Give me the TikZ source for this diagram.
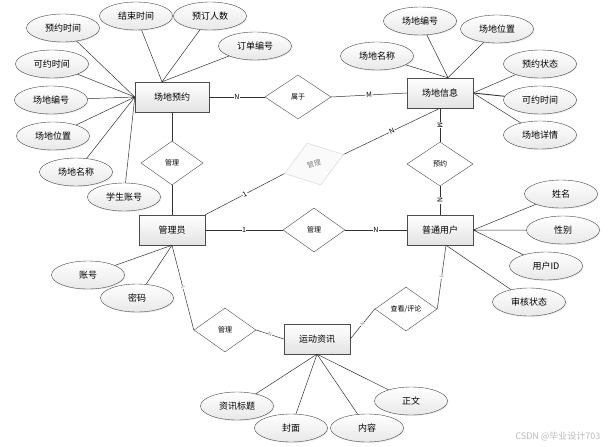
\documentclass[tikz,border=0pt]{standalone}
\usepackage{fontspec}
\setmainfont{Noto Sans CJK SC}
\usetikzlibrary{shapes.geometric}
\usetikzlibrary{shadows}
\tikzset{entity/.style={draw=gray!60!black, top color=white, bottom color=gray!22, minimum width=66pt, minimum height=30pt, inner sep=1pt, font=\fontsize{9}{10}\selectfont, drop shadow={opacity=0.2, shadow xshift=1pt, shadow yshift=-1pt}}}
\tikzset{attr/.style={ellipse, draw=gray!55!black, top color=white, bottom color=gray!18, minimum width=73pt, minimum height=28pt, inner sep=0pt, font=\fontsize{9}{10}\selectfont, drop shadow={opacity=0.15, shadow xshift=1pt, shadow yshift=-1pt}}}
\tikzset{rel/.style={diamond, draw=gray!60!black, fill=white, minimum width=62pt, minimum height=44pt, inner sep=0pt, font=\fontsize{7}{8}\selectfont}}
\tikzset{link/.style={draw=black!80, line width=0.5pt}}
\tikzset{lbl/.style={fill=white, inner sep=0.5pt, sloped, font=\fontsize{7}{8}\selectfont}}
\tikzset{lbls/.style={fill=white, inner sep=0.3pt, sloped, text=gray, font=\fontsize{5}{6}\selectfont}}

\begin{document}
\begin{tikzpicture}[x=1pt, y=-1pt]
    \useasboundingbox (0,0) rectangle (608,447);
    %Entities
    \node[entity, minimum width=74pt] (zy) at (172,97) {场地预约};
    \node[entity] (cdxx) at (440,93) {场地信息};
    \node[entity] (gly) at (172,230) {管理员};
    \node[entity] (ptyh) at (440,230) {普通用户};
    \node[entity] (ydzx) at (317,339) {运动资讯};
    %Relations
    \node[rel, minimum width=66pt] (sy) at (298,97) {属于};
    \node[rel] (gl1) at (172,163) {管理};
    \node[rel, minimum width=66pt] (yy) at (440,164) {预约};
    \node[rel] (gl2) at (314,230) {管理};
    \node[rel] (gl3) at (225,330) {管理};
    \node[rel] (ckpl) at (406,309) {查看/评论};
    \node[rel, draw=gray!35, fill=gray!4, text=gray, rotate=18] (gl4) at (314,164) {管理};
    %Links between entities and relations
    \draw[link] (zy.east) -- node[lbl] {N} (sy.west);
    \draw[link] (sy.east) -- node[lbl] {M} (cdxx.west);
    \draw[link] (zy.south) -- (gl1.north);
    \draw[link] (gl1.south) -- (gly.north);
    \draw[link] (cdxx.south) -- node[lbl] {M} (yy.north);
    \draw[link] (yy.south) -- node[lbl] {N} (ptyh.north);
    \draw[link] (gly.east) -- node[lbl] {1} (gl2.west);
    \draw[link] (gl2.east) -- node[lbl] {N} (ptyh.west);
    \draw[link] (gly.north east) -- node[lbl] {1} (gl4.west);
    \draw[link] (gl4.east) -- node[lbl] {N} (cdxx.south);
    \draw[link] (gly.south) -- node[lbls] {1} (gl3.west);
    \draw[link] (gl3.east) -- node[lbls] {N} (ydzx.west);
    \coordinate (ptyhB) at ([xshift=6pt]ptyh.south);
    \draw[link] (ptyhB) -- node[lbls] {1} (ckpl.east);
    \draw[link] (ckpl.west) -- node[lbls] {N} (ydzx.east);
    %Attributes of 场地预约
    \coordinate (zyT) at ([xshift=-10pt]zy.north);
    \draw[link] (zy.west) -- (63,28) (zyT) -- (136,16) (zyT) -- (210,16) (zyT) -- (255,46);
    \draw[link] (zy.west) -- (52,64) (zy.west) -- (51,100) (zy.west) -- (53,136) (zy.west) -- (76,172) (zy.west) -- (124,197);
    \node[attr] (a1) at (63,28) {预约时间};
    \node[attr] (a2) at (136,16) {结束时间};
    \node[attr] (a3) at (210,16) {预订人数};
    \node[attr] (a4) at (255,46) {订单编号};
    \node[attr] (a5) at (52,64) {可约时间};
    \node[attr] (a6) at (51,100) {场地编号};
    \node[attr] (a7) at (53,136) {场地位置};
    \node[attr] (a8) at (76,172) {场地名称};
    \node[attr] (a9) at (124,197) {学生账号};
    %Attributes of 场地信息
    \coordinate (cdxxT) at ([xshift=8pt]cdxx.north);
    \draw[link] (cdxxT) -- (377,56) (cdxxT) -- (420,21) (cdxxT) -- (497,29);
    \draw[link] (cdxx.east) -- (540,64) (cdxx.east) -- (540,135);
    \draw[link, line width=0.9pt] (cdxx.east) -- (540,100);
    \node[attr] (b1) at (377,56) {场地名称};
    \node[attr] (b2) at (420,21) {场地编号};
    \node[attr] (b3) at (497,29) {场地位置};
    \node[attr] (b4) at (540,64) {预约状态};
    \node[attr] (b5) at (540,100) {可约时间};
    \node[attr] (b6) at (540,135) {场地详情};
    %Attributes of 普通用户
    \draw[link] (ptyh.east) -- (561,194) (ptyh.east) -- (563,230) (ptyh.east) -- (546,266) (ptyhB) -- (529,302);
    \node[attr] (c1) at (561,194) {姓名};
    \node[attr] (c2) at (563,230) {性别};
    \node[attr] (c3) at (546,266) {用户ID};
    \node[attr] (c4) at (529,302) {审核状态};
    %Attributes of 管理员
    \draw[link] (gly.south) -- (88,275) (gly.south) -- (137,298);
    \node[attr] (d1) at (88,275) {账号};
    \node[attr] (d2) at (137,298) {密码};
    %Attributes of 运动资讯
    \draw[link] (ydzx.south) -- (237,406) (ydzx.south) -- (291,428) (ydzx.south) -- (367,428) (ydzx.south) -- (411,401);
    \node[attr] (e1) at (237,406) {资讯标题};
    \node[attr] (e4) at (411,401) {正文};
    \node[attr] (e2) at (291,428) {封面};
    \node[attr] (e3) at (367,428) {内容};
    %Watermark
    \node[anchor=east, text=gray!55, font=\fontsize{9}{10}\selectfont] (wm) at (604,437) {CSDN @毕业设计703};
\end{tikzpicture}
\end{document}
